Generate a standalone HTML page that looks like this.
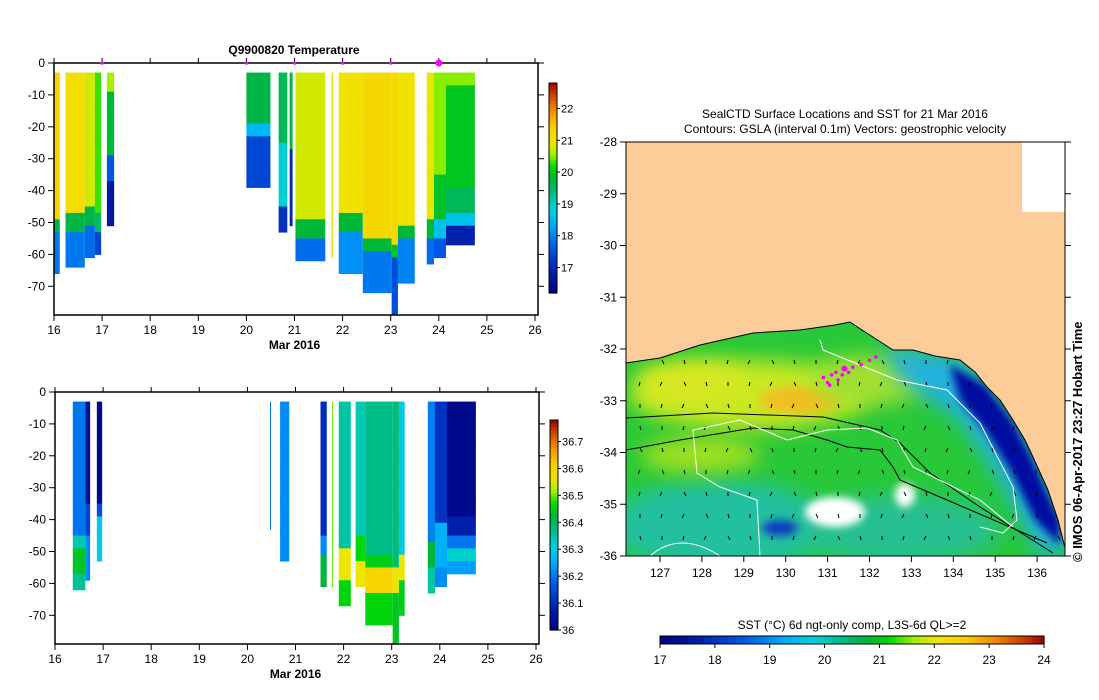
<!DOCTYPE html>
<html><head><meta charset="utf-8">
<style>
body{margin:0;background:#fff;}
#root{position:relative;width:1099px;height:700px;overflow:hidden;font-family:"Liberation Sans",sans-serif;}
svg text{font-family:"Liberation Sans",sans-serif;}
</style></head>
<body>
<div id="root">
<svg id="svg" width="1099" height="700" viewBox="0 0 1099 700">
<defs>
<filter id="blur8" x="-50%" y="-50%" width="200%" height="200%"><feGaussianBlur stdDeviation="10"/></filter>
<filter id="blur4" x="-50%" y="-50%" width="200%" height="200%"><feGaussianBlur stdDeviation="4"/></filter>
<clipPath id="mapclip"><rect x="626" y="142" width="439" height="414"/></clipPath>
</defs>
<g id="tempChart"></g>
<g id="salChart"></g>
<g id="map"></g>
</svg>
</div>
<script>
// ---------- Temperature section data ----------
const tStart  = [16.0, 16.24, 16.64, 16.85, 17.1, 20.0, 20.67, 20.9, 21.02, 21.77, 21.92, 22.42, 23.02, 23.15, 23.75, 23.9, 24.15];
const tEnd    = [16.12,16.64, 16.85, 16.98, 17.25,20.5, 20.85, 20.96,21.64, 21.8, 22.42, 23.02, 23.15, 23.5, 23.9, 24.15,24.75];
const tBottom = [-66, -64, -61, -60, -51, -39, -53, -51, -62, -61, -66, -72, -79, -69, -63, -61, -57];
const tDepths = [
 [-50,-54,-66],[-48,-54,-64],[-45,-52,-61],[-48,-53,-60],[-10,-30,-37,-51],[-20,-24,-39],[-25,-45,-53],[-27,-51],
 [-50,-56,-62],[-61],[-48,-54,-66],[-55,-59,-72],[-57,-62,-79],[-52,-56,-69],[-50,-56,-63],[-35,-50,-55,-61],[-8,-40,-47,-52,-57]];
const tValues = [
 [21.3,19.7,17.9],[21.1,19.7,17.9],[20.8,19.7,17.8],[20.3,19.5,17.4],[20.6,19.8,17.6,16.7],[19.7,18.5,17.4],[19.6,18.9,17.1],[19.8,17.0],
 [20.8,19.8,17.8],[20.9],[21.0,19.8,18.1],[21.2,19.8,17.9],[21.2,19.9,17.5],[21.0,19.8,18.0],[20.9,19.8,17.8],[20.5,19.9,18.6,17.6],[20.5,19.95,19.6,18.6,16.9]];
const tMarkers = [17, 20, 21, 22, 23, 24];
const tTicks = [0,-10,-20,-30,-40,-50,-60,-70];
const dayTicks = [16,17,18,19,20,21,22,23,24,25,26];
const tCbTicks = [17,18,19,20,21,22];

// ---------- Salinity section data ----------
const sStart  = [16.37,16.63,16.87,20.47,20.68,21.52,21.76,21.9,22.25,22.45,23.02,23.15,23.75,23.9,24.15];
const sEnd    = [16.63,16.73,16.98,20.49,20.87,21.65,21.78,22.15,22.45,23.02,23.15,23.27,23.9,24.15,24.75];
const sBottom = [-62,-59,-53,-43,-53,-61,-61,-67,-61,-73,-79,-70,-63,-61,-57];
const sDepths = [
 [-45,-50,-58,-62],[-35,-45,-59],[-35,-39,-53],[-43],[-53],[-45,-52,-61],[-61],[-50,-60,-67],[-45,-53,-61],
 [-52,-56,-63,-73],[-55,-63,-79],[-52,-60,-70],[-47,-56,-63],[-42,-55,-61],[-40,-45,-49,-54,-57]];
const sValues = [
 [36.2,36.34,36.44,36.36],[36.04,36.14,36.22],[36.02,36.15,36.3],[36.2],[36.22],[36.1,36.22,36.42],[36.5],[36.35,36.56,36.46],[36.34,36.46,36.56],
 [36.37,36.45,36.6,36.46],[36.38,36.56,36.44],[36.3,36.56,36.45],[36.21,36.42,36.35],[36.11,36.26,36.22],[36.02,36.08,36.2,36.32,36.24]];
const sTicks = [0,-10,-20,-30,-40,-50,-60,-70];
const sCbTicks = [36,36.1,36.2,36.3,36.4,36.5,36.6,36.7];

// ---------- Map data ----------
const latTicks = [-28,-29,-30,-31,-32,-33,-34,-35,-36];
const lonTicks = [127,128,129,130,131,132,133,134,135,136];
const sstTicks = [17,18,19,20,21,22,23,24];
const ctdLon = [130.9,131.0,131.1,131.2,131.35,131.4,131.5,131.6,131.8,132.0,132.15,131.05,131.25];
const ctdLat = [-32.55,-32.65,-32.5,-32.45,-32.5,-32.38,-32.45,-32.35,-32.3,-32.22,-32.15,-32.7,-32.6];

const NS="http://www.w3.org/2000/svg";
function el(tag, attrs, parent){const e=document.createElementNS(NS,tag);for(const k in attrs)e.setAttribute(k,attrs[k]);if(parent)parent.appendChild(e);return e;}
const stops=[[0,[0,0,128]],[0.1,[0,30,170]],[0.22,[0,90,230]],[0.32,[0,170,255]],[0.4,[0,210,220]],[0.47,[0,190,140]],[0.54,[0,180,60]],[0.6,[0,220,0]],[0.66,[160,240,0]],[0.72,[240,230,0]],[0.8,[250,200,0]],[0.88,[240,130,0]],[0.95,[200,60,0]],[1,[150,0,0]]];
function cmap(t){t=Math.max(0,Math.min(1,t));for(let i=1;i<stops.length;i++){if(t<=stops[i][0]){const a=stops[i-1],b=stops[i];const f=(t-a[0])/(b[0]-a[0]);const c=a[1].map((v,j)=>Math.round(v+(b[1][j]-v)*f));return `rgb(${c[0]},${c[1]},${c[2]})`;}}return 'rgb(150,0,0)';}

function section(g, cfg){
  const {x0,x1,y0,ybot,yPer10,starts,ends,bottoms,depths,values,vmin,vmax,ticks,cb,cbTicks,fmt,markers} = cfg;
  const xs=d=>x0+(d-16)*(x1-x0)/10;
  const ys=z=>y0-z*yPer10/10;
  const right=x1+3;
  for(let i=0;i<starts.length;i++){
    const cg=el('g',{},g);
    
    
    for(let z=-3; z>bottoms[i]; z-=2){
      const zb=Math.max(z-2,bottoms[i]);
      let v=values[i][values[i].length-1];
      for(let k=0;k<depths[i].length;k++){ if(zb>=depths[i][k]-0.01){v=values[i][k];break;} }
      const xa=xs(starts[i]), w=Math.max(1,xs(ends[i])-xa);
      el('rect',{x:xa,y:ys(z),width:w,height:ys(zb)-ys(z)+0.5,fill:cmap((v-vmin)/(vmax-vmin))},cg);
    }
  }
  el('rect',{x:x0,y:y0,width:right-x0,height:ybot-y0,fill:'none',stroke:'#000','stroke-width':1.5},g);
  for(const t of ticks){
    const y=ys(t);
    el('line',{x1:x0-6,y1:y,x2:x0,y2:y,stroke:'#000'},g);
    el('line',{x1:right,y1:y,x2:right+6,y2:y,stroke:'#000'},g);
    const tx=el('text',{x:x0-9,y:y+4,'text-anchor':'end','font-size':12},g);tx.textContent=t;
    
    
  }
  for(const d of dayTicks){
    const x=xs(d);
    el('line',{x1:x,y1:ybot,x2:x,y2:ybot+6,stroke:'#000'},g);
    el('line',{x1:x,y1:y0,x2:x,y2:y0-5,stroke:'#000'},g);
    const tx=el('text',{x:x,y:ybot+19,'text-anchor':'middle','font-size':12},g);tx.textContent=d;
    
    
  }
  const xl=el('text',{x:xs(21),y:ybot+34,'text-anchor':'middle','font-size':12,'font-weight':'bold'},g);xl.textContent='Mar 2016';
  
  
  if(markers){for(const m of markers){const c=el('circle',{cx:xs(m),cy:y0,r:m===24?3.5:1.8,fill:'#ff00ff'},g);
    
    }}
  const cbg=el('g',{},g);
  
  
  const n=60,h=(cb.y1-cb.y0)/n;
  for(let i=0;i<n;i++){el('rect',{x:cb.x,y:cb.y0+i*h,width:8,height:h+0.6,fill:cmap(1-(i+0.5)/n)},cbg);}
  el('rect',{x:cb.x,y:cb.y0,width:8,height:cb.y1-cb.y0,fill:'none',stroke:'#000'},cbg);
  for(const t of cbTicks){
    const y=cb.y1-(t-vmin)/(vmax-vmin)*(cb.y1-cb.y0);
    el('line',{x1:cb.x+8,y1:y,x2:cb.x+11,y2:y,stroke:'#000'},cbg);
    const tx=el('text',{x:cb.x+12,y:y+4,'font-size':11},cbg);tx.textContent=fmt(t);
  }
}
const tg=document.getElementById('tempChart');
const tt=el('text',{x:294,y:54,'text-anchor':'middle','font-size':12,'font-weight':'bold'},tg);tt.textContent='Q9900820  Temperature';


section(tg,{x0:54,x1:535,y0:63,ybot:315,yPer10:31.9,starts:tStart,ends:tEnd,bottoms:tBottom,depths:tDepths,values:tValues,vmin:16.2,vmax:22.8,ticks:tTicks,cb:{x:549,y0:83,y1:293},cbTicks:tCbTicks,fmt:t=>String(t),markers:tMarkers});
const sg=document.getElementById('salChart');
section(sg,{x0:55,x1:536,y0:392,ybot:644,yPer10:31.9,starts:sStart,ends:sEnd,bottoms:sBottom,depths:sDepths,values:sValues,vmin:36.0,vmax:36.78,ticks:sTicks,cb:{x:550,y0:420,y1:630},cbTicks:sCbTicks,fmt:t=>(t===36?'36':t.toFixed(1))});

// ---------- Map ----------
const mg=document.getElementById('map');
const lonX=l=>660+(l-127)*41.9;
const latY=l=>142+(-28-l)*51.75;
const t1=el('text',{x:845,y:118,'text-anchor':'middle','font-size':12},mg);t1.textContent='SealCTD Surface Locations and SST for 21 Mar 2016';


const t2=el('text',{x:845,y:133,'text-anchor':'middle','font-size':12},mg);t2.textContent='Contours: GSLA (interval 0.1m) Vectors: geostrophic velocity';


const inner=el('g',{'clip-path':'url(#mapclip)'},mg);
el('rect',{x:626,y:142,width:439,height:414,fill:'#28c838'},inner);
el('ellipse',{cx:720,cy:525,rx:110,ry:45,fill:'#20c0a0',filter:'url(#blur8)'},inner);
el('ellipse',{cx:900,cy:530,rx:100,ry:35,fill:'#28c090',filter:'url(#blur8)'},inner);
el('ellipse',{cx:750,cy:395,rx:120,ry:35,fill:'#c8e820',filter:'url(#blur8)'},inner);
el('ellipse',{cx:690,cy:382,rx:55,ry:20,fill:'#d8e820',filter:'url(#blur8)'},inner);
el('ellipse',{cx:800,cy:400,rx:40,ry:14,fill:'#f0c020',filter:'url(#blur4)'},inner);
el('ellipse',{cx:700,cy:455,rx:60,ry:18,fill:'#a0e020',filter:'url(#blur8)'},inner);
el('ellipse',{cx:870,cy:380,rx:60,ry:25,fill:'#a0e030',filter:'url(#blur8)'},inner);
el('path',{d:'M880,345 L960,358 L1000,398 L1030,445 L1050,490 L1065,525 L1065,556 L1040,556 L1000,480 L960,420 L900,380 Z',fill:'#20b0e0',filter:'url(#blur8)'},inner);
el('path',{d:'M950,365 L985,385 L1012,420 L1032,458 L1046,490 L1060,520 L1060,545 L1035,520 L1010,470 L985,430 L960,400 Z',fill:'#0010a0',filter:'url(#blur4)'},inner);
el('ellipse',{cx:835,cy:512,rx:30,ry:15,fill:'#fff',filter:'url(#blur4)'},inner);
el('ellipse',{cx:905,cy:495,rx:10,ry:12,fill:'#fff',filter:'url(#blur4)'},inner);
el('ellipse',{cx:780,cy:528,rx:18,ry:8,fill:'#1040c0',filter:'url(#blur4)'},inner);
const coast='M626,363 L660,358 L700,345 L753,333 L800,330 L835,325 L850,322 L862,330 L893,350 L913,350 L935,356 L960,360 L975,372 L987,387 L1000,400 L1013,420 L1025,440 L1033,457 L1048,490 L1058,520 L1065,548 L1065,142 L626,142 Z';
const land=el('path',{d:coast,fill:'#fccc99',stroke:'#000','stroke-width':1},inner);


el('rect',{x:1022,y:142,width:43,height:70,fill:'#fff'},inner);
for(let x=640;x<1065;x+=22){for(let y=360;y<556;y+=22){
  if(land.isPointInFill && land.isPointInFill(new DOMPoint(x,y))) continue;
  el('line',{x1:x,y1:y,x2:x+((x*7+y*3)%5-2),y2:y+4,stroke:'#000','stroke-width':1},inner);
}}
el('path',{d:'M626,418 L713,413 L823,417 L880,430 L900,443 L930,473 L980,507 L1053,553',fill:'none',stroke:'#000','stroke-width':1},inner);
el('path',{d:'M626,450 L680,440 L753,428 L793,430 L827,440 L847,447 L880,450 L893,467 L900,480 L947,500 L1047,543',fill:'none',stroke:'#000','stroke-width':1},inner);
el('path',{d:'M760,557 L757,500 L720,487 L697,473 L693,430 L740,420 L787,440 L827,430 L867,428 L897,440 L913,467 L980,500 L1013,527',fill:'none',stroke:'#fff','stroke-width':1},inner);
el('path',{d:'M820,340 L823,350 L897,380 L947,390 L980,423 L1013,487 L1017,520 L1003,533 L980,527',fill:'none',stroke:'#fff','stroke-width':1},inner);
el('path',{d:'M650,556 Q680,530 720,556',fill:'none',stroke:'#fff','stroke-width':1},inner);
for(let i=0;i<ctdLon.length;i++){
  const c=el('circle',{cx:lonX(ctdLon[i]),cy:latY(ctdLat[i]),r:i===5?3:1.8,fill:'#ff00ff'},inner);
  
  
}
el('rect',{x:626,y:142,width:439,height:414,fill:'none',stroke:'#000'},mg);
for(const l of latTicks){const y=latY(l);
  el('line',{x1:620,y1:y,x2:626,y2:y,stroke:'#000'},mg);
  el('line',{x1:1065,y1:y,x2:1071,y2:y,stroke:'#000'},mg);
  const tx=el('text',{x:617,y:y+4,'text-anchor':'end','font-size':12},mg);tx.textContent=l;
  
  }
for(const l of lonTicks){const x=lonX(l);
  el('line',{x1:x,y1:556,x2:x,y2:562,stroke:'#000'},mg);
  const tx=el('text',{x:x,y:577,'text-anchor':'middle','font-size':12},mg);tx.textContent=l;
  
  }
const cr=el('text',{x:0,y:0,'font-size':13,'font-weight':'bold',transform:'translate(1082,562) rotate(-90)'},mg);cr.textContent='© IMOS 06-Apr-2017 23:27 Hobart Time';


const sl=el('text',{x:852,y:629,'text-anchor':'middle','font-size':12},mg);sl.textContent='SST (°C) 6d ngt-only comp, L3S-6d QL>=2';


const scb=el('g',{},mg);


const cbx0=660,cbx1=1044;
for(let i=0;i<96;i++){const w=(cbx1-cbx0)/96;el('rect',{x:cbx0+i*w,y:636,width:w+0.6,height:8,fill:cmap((i+0.5)/96)},scb);}
el('rect',{x:cbx0,y:636,width:cbx1-cbx0,height:8,fill:'none',stroke:'#000'},scb);
for(const t of sstTicks){const x=cbx0+(t-17)/7*(cbx1-cbx0);
  el('line',{x1:x,y1:644,x2:x,y2:648,stroke:'#000'},scb);
  const tx=el('text',{x:x,y:664,'text-anchor':'middle','font-size':12},scb);tx.textContent=t;}
</script>
</body></html>
